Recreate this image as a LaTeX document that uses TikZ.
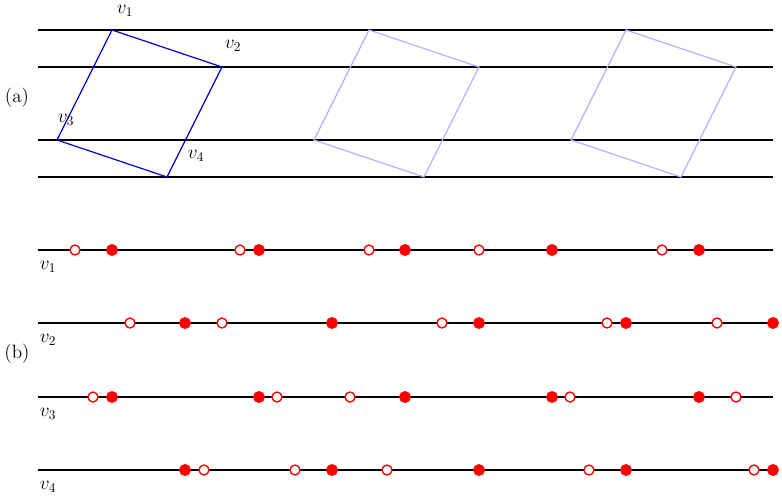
\documentclass[tikz,border=0pt]{standalone}
\begin{document}
\begin{tikzpicture}[x=0.75pt,y=-0.75pt,every node/.append style={font=\Large},
  hl/.style={black,line width=0.8pt},
  quad/.style={blue!85!black,line width=0.9pt},
  quadf/.style={blue!30,line width=0.9pt},
  fdot/.style={circle,fill=red,draw=red,inner sep=0pt,minimum size=8.5pt},
  odot/.style={circle,fill=white,draw=red,line width=1pt,inner sep=0pt,minimum size=7.5pt}]
\useasboundingbox (0,0) rectangle (782,496);
\foreach \y in {30,67,140,177} \draw[hl] (38,\y) -- (773,\y);
\coordinate (p1) at (112,30); \coordinate (p2) at (222,67);
\coordinate (p4) at (167,177); \coordinate (p3) at (57,140);
\draw[quad] (p1) -- (p2) -- (p4) -- (p3) -- cycle;
\foreach \s in {257,514}
  \draw[quadf] (112+\s,30) -- (222+\s,67) -- (167+\s,177) -- (57+\s,140) -- cycle;
\node (l1) at (125,11) {$v_1$};
\node (l2) at (233,46) {$v_2$};
\node (l3) at (66,120) {$v_3$};
\node (l4) at (196,156) {$v_4$};
\node (la) at (17,98) {(a)};
\node (lb) at (17,354) {(b)};
\foreach \y/\n in {250/1,323/2,397/3,470/4} {
  \draw[hl] (38,\y) -- (773,\y);
  \node (m\n) at (48,\y+17) {$v_\n$};
}
\foreach \x in {75,240,369,479,662} \node[odot] at (\x,250) {};
\foreach \x in {112,259,405,552,699} \node[fdot] at (\x,250) {};
\foreach \x in {130,222,442,607,717} \node[odot] at (\x,323) {};
\foreach \x in {185,332,479,626,773} \node[fdot] at (\x,323) {};
\foreach \x in {93,277,350,570,736} \node[odot] at (\x,397) {};
\foreach \x in {112,259,405,552,699} \node[fdot] at (\x,397) {};
\foreach \x in {204,295,387,589,754} \node[odot] at (\x,470) {};
\foreach \x in {185,332,479,626,773} \node[fdot] at (\x,470) {};
\end{tikzpicture}
\end{document}
